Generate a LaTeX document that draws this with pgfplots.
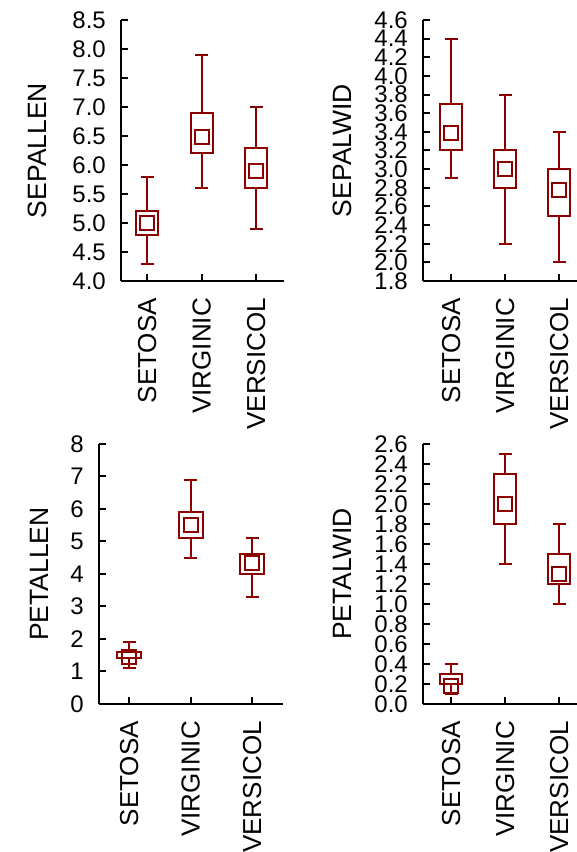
\documentclass[border=0pt]{standalone}
\usepackage{fontspec}
\setmainfont{Liberation Sans}
\usepackage{pgfplots}
\pgfplotsset{compat=1.18}
\usepgfplotslibrary{statistics}
\definecolor{boxred}{RGB}{139,0,0}
\pgfplotsset{
 irisbox/.style={
   scale only axis,
   anchor=south west,
   axis x line*=bottom, axis y line*=left,
   axis line style={line width=2.2bp, black},
   tick align=inside,
   major tick length=7bp,
   tick style={line width=2bp, black},
   xtick={0,1,2}, xticklabels={SETOSA,VIRGINIC,VERSICOL},
   xticklabel style={rotate=90, anchor=east, inner sep=0pt, font=\fontsize{26bp}{26bp}\selectfont},
   xticklabel shift=17bp,
   yticklabel style={anchor=east, inner sep=0pt, font=\fontsize{24bp}{24bp}\selectfont,
     /pgf/number format/assume math mode=true},
   yticklabel shift=15bp,
   ylabel style={anchor=center, font=\fontsize{26.5bp}{26.5bp}\selectfont},
   boxplot/draw direction=y,
   boxplot/draw/median/.code={},
   clip=false,
 },
 onedec/.style={yticklabel style={/pgf/number format/fixed, /pgf/number format/fixed zerofill, /pgf/number format/precision=1}},
 bx/.style={draw=boxred, line width=2bp, solid, mark=none, fill=none},
 mk/.style={only marks, mark=square, mark size=7bp, mark options={draw=boxred, line width=2bp, solid, fill=none}},
}
\begin{document}
\begin{tikzpicture}
\useasboundingbox (0,0) rectangle (577bp,852bp);
% ---------- SEPALLEN ----------
\begin{axis}[irisbox, onedec, at={(121bp,571bp)}, width=163bp, height=261bp,
  xmin=-0.48, xmax=2.51, ymin=4, ymax=8.5,
  ytick={4.0,4.5,5.0,5.5,6.0,6.5,7.0,7.5,8.0,8.5},
  ylabel={SEPALLEN}, ylabel style={at={(axis description cs:-0.512,0.5)}}]
\addplot[bx, boxplot prepared={draw position=0, lower whisker=4.3, lower quartile=4.8, median=5.0, upper quartile=5.2, upper whisker=5.8, box extend=0.40, whisker extend=0.24}] coordinates {};
\addplot[bx, boxplot prepared={draw position=1, lower whisker=5.6, lower quartile=6.2, median=6.5, upper quartile=6.9, upper whisker=7.9, box extend=0.40, whisker extend=0.24}] coordinates {};
\addplot[bx, boxplot prepared={draw position=2, lower whisker=4.9, lower quartile=5.6, median=5.9, upper quartile=6.3, upper whisker=7.0, box extend=0.40, whisker extend=0.24}] coordinates {};
\addplot[mk] coordinates {(0,5.0) (1,6.48) (2,5.89)};
\end{axis}
% ---------- SEPALWID ----------
\begin{axis}[irisbox, onedec, at={(423bp,571bp)}, width=154bp, height=261bp,
  xmin=-0.52, xmax=2.33, ymin=1.8, ymax=4.6,
  ytick={1.8,2.0,2.2,2.4,2.6,2.8,3.0,3.2,3.4,3.6,3.8,4.0,4.2,4.4,4.6},
  ylabel={SEPALWID}, ylabel style={at={(axis description cs:-0.526,0.5)}}]
\addplot[bx, boxplot prepared={draw position=0, lower whisker=2.9, lower quartile=3.2, median=3.4, upper quartile=3.7, upper whisker=4.4, box extend=0.41, whisker extend=0.24}] coordinates {};
\addplot[bx, boxplot prepared={draw position=1, lower whisker=2.2, lower quartile=2.8, median=3.0, upper quartile=3.2, upper whisker=3.8, box extend=0.41, whisker extend=0.24}] coordinates {};
\addplot[bx, boxplot prepared={draw position=2, lower whisker=2.0, lower quartile=2.5, median=2.8, upper quartile=3.0, upper whisker=3.4, box extend=0.41, whisker extend=0.24}] coordinates {};
\addplot[mk] coordinates {(0,3.39) (1,3.0) (2,2.78)};
\end{axis}
% ---------- PETALLEN ----------
\begin{axis}[irisbox, at={(99bp,148bp)}, width=184bp, height=260bp,
  xmin=-0.49, xmax=2.5, ymin=0, ymax=8,
  ytick={0,1,2,3,4,5,6,7,8},
  ylabel={PETALLEN}, ylabel style={at={(axis description cs:-0.326,0.5)}}]
\addplot[bx, boxplot prepared={draw position=0, lower whisker=1.1, lower quartile=1.4, median=1.5, upper quartile=1.6, upper whisker=1.9, box extend=0.39, whisker extend=0.21}] coordinates {};
\addplot[bx, boxplot prepared={draw position=1, lower whisker=4.5, lower quartile=5.1, median=5.5, upper quartile=5.9, upper whisker=6.9, box extend=0.39, whisker extend=0.21}] coordinates {};
\addplot[bx, boxplot prepared={draw position=2, lower whisker=3.3, lower quartile=4.0, median=4.35, upper quartile=4.6, upper whisker=5.1, box extend=0.39, whisker extend=0.21}] coordinates {};
\addplot[mk] coordinates {(0,1.46) (1,5.51) (2,4.33)};
\end{axis}
% ---------- PETALWID ----------
\begin{axis}[irisbox, onedec, at={(423bp,148bp)}, width=154bp, height=260bp,
  xmin=-0.52, xmax=2.33, ymin=0, ymax=2.6,
  ytick={0.0,0.2,0.4,0.6,0.8,1.0,1.2,1.4,1.6,1.8,2.0,2.2,2.4,2.6},
  ylabel={PETALWID}, ylabel style={at={(axis description cs:-0.523,0.5)}}]
\addplot[bx, boxplot prepared={draw position=0, lower whisker=0.1, lower quartile=0.2, median=0.2, upper quartile=0.3, upper whisker=0.4, box extend=0.41, whisker extend=0.24}] coordinates {};
\addplot[bx, boxplot prepared={draw position=1, lower whisker=1.4, lower quartile=1.8, median=2.0, upper quartile=2.3, upper whisker=2.5, box extend=0.41, whisker extend=0.24}] coordinates {};
\addplot[bx, boxplot prepared={draw position=2, lower whisker=1.0, lower quartile=1.2, median=1.3, upper quartile=1.5, upper whisker=1.8, box extend=0.41, whisker extend=0.24}] coordinates {};
\addplot[mk] coordinates {(0,0.18) (1,2.0) (2,1.3)};
\end{axis}
\end{tikzpicture}
\end{document}
